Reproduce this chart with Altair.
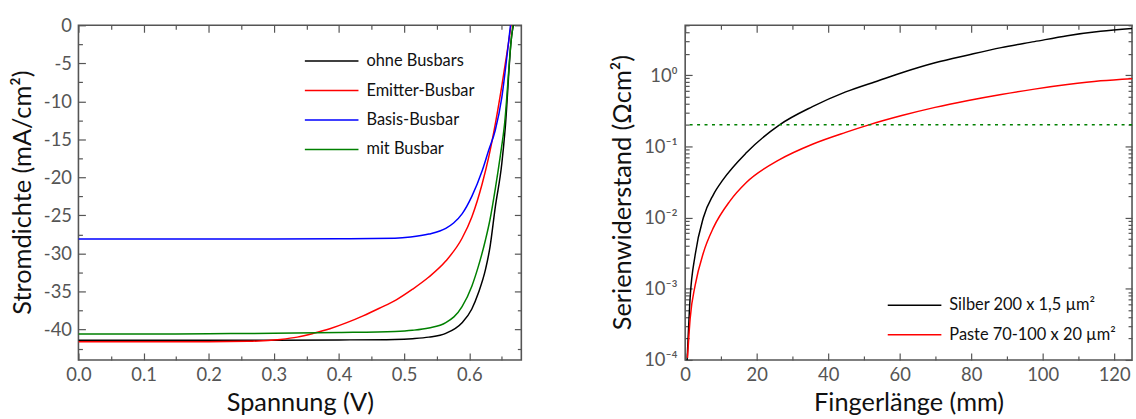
import altair as alt
import pandas as pd

# ---------------- data: left panel (IV curves) ----------------
series_left = ["ohne Busbars", "Emitter-Busbar", "Basis-Busbar", "mit Busbar"]
colors_left = ["#000000", "#ff0000", "#0000ff", "#008000"]

V_black = [0.0, 0.1, 0.2, 0.3, 0.4, 0.486, 0.513, 0.538, 0.564, 0.589, 0.604, 0.614, 0.625, 0.632, 0.640, 0.650, 0.655, 0.665, 0.669]
J_black = [-41.4, -41.4, -41.4, -41.4, -41.37, -41.3, -41.2, -41.0, -40.5, -39.1, -37.3, -35.2, -32.1, -29.1, -23.9, -18.2, -13.8, -1.5, 0.5]

V_red = [0.0, 0.1, 0.2, 0.26, 0.31, 0.336, 0.361, 0.386, 0.412, 0.437, 0.462, 0.488, 0.513, 0.538, 0.564, 0.589, 0.604, 0.620, 0.630, 0.640, 0.650, 0.660, 0.665]
J_red = [-41.6, -41.6, -41.6, -41.55, -41.3, -41.0, -40.5, -39.9, -39.1, -38.2, -37.2, -36.1, -34.7, -33.1, -31.0, -28.0, -25.2, -20.8, -17.3, -13.0, -8.0, -2.5, 0.5]

V_blue = [0.0, 0.1, 0.2, 0.3, 0.4, 0.486, 0.51, 0.538, 0.564, 0.576, 0.589, 0.604, 0.620, 0.630, 0.640, 0.650, 0.660, 0.664]
J_blue = [-28.1, -28.1, -28.1, -28.1, -28.07, -28.0, -27.85, -27.45, -26.7, -26.0, -24.8, -22.5, -19.1, -16.4, -13.8, -9.5, -2.5, 0.5]

V_green = [0.0, 0.1, 0.2, 0.3, 0.4, 0.486, 0.513, 0.538, 0.564, 0.589, 0.604, 0.614, 0.625, 0.632, 0.640, 0.648, 0.654, 0.665, 0.668]
J_green = [-40.6, -40.6, -40.55, -40.5, -40.4, -40.25, -40.1, -39.8, -39.1, -37.0, -34.3, -31.7, -28.2, -25.5, -21.5, -17.0, -13.2, -1.5, 0.5]

V_major = [0.0, 0.1, 0.2, 0.3, 0.4, 0.5, 0.6]
V_minor = [0.05, 0.15, 0.25, 0.35, 0.45, 0.55, 0.65]
J_major = [0, -5, -10, -15, -20, -25, -30, -35, -40]
J_minor = [-2.5, -7.5, -12.5, -17.5, -22.5, -27.5, -32.5, -37.5, -42.5]

# ---------------- data: right panel (series resistance) ----------------
series_right = ["Silber 200 x 1,5 µm²", "Paste 70-100 x 20 µm²"]
colors_right = ["#000000", "#ff0000"]

L_silber = [0.55, 1.39, 2.8, 5.1, 7.9, 10.6, 17.1, 26.4, 35.6, 44.9, 54.2, 60.6, 69.9, 79.2, 88.4, 97.7, 106.9, 116.2, 125.0]
R_silber = [1.0e-4, 7.5e-4, 3.0e-3, 1.0e-2, 2.1e-2, 3.4e-2, 8.1e-2, 0.20, 0.36, 0.58, 0.84, 1.08, 1.49, 1.92, 2.43, 2.95, 3.57, 4.11, 4.5]

L_paste = [0.65, 1.39, 2.8, 5.1, 7.9, 12.5, 17.1, 26.4, 35.6, 44.9, 51.4, 60.6, 69.9, 79.2, 88.4, 97.7, 106.9, 116.2, 125.0]
R_paste = [1.07e-4, 3.8e-4, 1.12e-3, 3.2e-3, 7.2e-3, 1.7e-2, 3.1e-2, 6.5e-2, 0.107, 0.157, 0.20, 0.27, 0.352, 0.44, 0.535, 0.635, 0.735, 0.83, 0.89]

R_limit = [0.2]

L_major = [0, 20, 40, 60, 80, 100, 120]
L_minor = [10, 30, 50, 70, 90, 110]
R_major = [1e-4, 1e-3, 1e-2, 1e-1, 1e0]
R_minor = [m * 10.0 ** e for e in range(-4, 1) for m in range(2, 10) if m * 10.0 ** e <= 5.0]

# ---------------- tables ----------------
rows = []
for name, vs, js in zip(series_left, [V_black, V_red, V_blue, V_green], [J_black, J_red, J_blue, J_green]):
    for v, j in zip(vs, js):
        rows.append({"s": name, "x": v, "y": j})
df_left = pd.DataFrame(rows)

rows = []
for name, ls, rs in zip(series_right, [L_silber, L_paste], [R_silber, R_paste]):
    for l, r in zip(ls, rs):
        rows.append({"s": name, "x": l, "y": r})
df_right = pd.DataFrame(rows)
df_limit = pd.DataFrame({"y": R_limit})

FONT = "Lato"
TICK_COLOR = "#555555"
MAJ, MIN = 7, 4

xs_left = alt.Scale(domain=[0, 0.68], nice=False, zero=False)
ys_left = alt.Scale(domain=[-44, 0], nice=False, zero=False)
xs_right = alt.Scale(domain=[0, 125], nice=False, zero=False)
ys_right = alt.Scale(type="log", domain=[1e-4, 5], nice=False)


def tick_axis(orient, vals, size):
    return alt.Axis(orient=orient, values=vals, tickSize=size, offset=-size, labels=False,
                    domain=False, grid=False, title=None, ticks=True,
                    tickColor=TICK_COLOR, tickWidth=1.2)


def tick_layers(base, xsc, ysc, xmaj, xmin, ymaj, ymin):
    out = []
    for xo, yo in [("bottom", "left"), ("top", "right")]:
        for xv, yv, sz in [(xmaj, ymaj, MAJ), (xmin, ymin, MIN)]:
            out.append(base.mark_point(opacity=0).encode(
                x=alt.X("x:Q", scale=xsc, axis=tick_axis(xo, xv, sz)),
                y=alt.Y("y:Q", scale=ysc, axis=tick_axis(yo, yv, sz)),
            ))
    return out


def legend(x, y):
    # line symbol: path spans 3x the nominal symbol diameter (18 px -> 54 px)
    return alt.Legend(orient="none", legendX=x + 18, legendY=y, title=None,
                      symbolType="M-3,0H3", symbolSize=324, symbolStrokeWidth=1.5,
                      symbolFillColor="transparent",
                      labelOffset=25, labelFontSize=16.5, labelFont=FONT, labelLimit=400,
                      labelColor="#111111", rowPadding=10.7, padding=0)


# ---------------- left panel ----------------
base_l = alt.Chart(df_left)
lines_l = base_l.mark_line(strokeWidth=1.5, interpolate="monotone", clip=True).encode(
    x=alt.X("x:Q", scale=xs_left,
            axis=alt.Axis(orient="bottom", values=V_major, format=".1f", ticks=False, domain=False,
                          grid=False, title="Spannung (V)", labelPadding=6, labelFlush=False,
                          titleX=223, titleY=51, titleAnchor="middle", titleBaseline="alphabetic")),
    y=alt.Y("y:Q", scale=ys_left,
            axis=alt.Axis(orient="left", values=J_major, ticks=False, domain=False, grid=False,
                          labelExpr="datum.value < 0 ? '-' + format(-datum.value, 'd') : '0'",
                          title="Stromdichte (mA/cm²)", labelPadding=7, labelFlush=False,
                          titleX=-43, titleY=168)),
    color=alt.Color("s:N", sort=series_left,
                    scale=alt.Scale(domain=series_left, range=colors_left),
                    legend=legend(227, 26)),
    detail="s:N",
)
left = alt.layer(lines_l, *tick_layers(base_l, xs_left, ys_left, V_major, V_minor, J_major, J_minor)).resolve_axis(
    x="independent", y="independent").properties(width=446, height=337)

# ---------------- right panel ----------------
base_r = alt.Chart(df_right)
lines_r = base_r.mark_line(strokeWidth=1.5, interpolate="monotone", clip=True).encode(
    x=alt.X("x:Q", scale=xs_right,
            axis=alt.Axis(orient="bottom", values=L_major, format="d", ticks=False, domain=False,
                          grid=False, title="Fingerlänge (mm)", labelPadding=6, labelFlush=False,
                          titleX=225, titleY=51, titleAnchor="middle", titleBaseline="alphabetic")),
    y=alt.Y("y:Q", scale=ys_right,
            axis=alt.Axis(orient="left", values=R_major, ticks=False, domain=False, grid=False,
                          labelExpr="'10' + ['⁻⁴','⁻³','⁻²','⁻¹','⁰'][round(log(datum.value)/LN10) + 4]",
                          title="Serienwiderstand (Ωcm²)", labelPadding=8, labelFlush=False,
                          titleX=-50, titleY=168)),
    color=alt.Color("s:N", sort=series_right,
                    scale=alt.Scale(domain=series_right, range=colors_right),
                    legend=legend(203, 272)),
    detail="s:N",
)
limit = alt.Chart(df_limit).mark_rule(color="#008000", strokeWidth=1.5, strokeDash=[3, 4.5]).encode(
    y=alt.Y("y:Q", scale=ys_right, axis=None)
)
right = alt.layer(lines_r, limit, *tick_layers(base_r, xs_right, ys_right, L_major, L_minor, R_major, R_minor)).resolve_axis(
    x="independent", y="independent").properties(width=450, height=337)

chart = alt.hconcat(left, right, spacing=87).resolve_scale(color="independent").properties(
    padding={"left": 10, "top": 14, "right": 0, "bottom": 0}, background="white"
).configure_view(stroke="#555555", strokeWidth=1.6).configure_axis(
    labelFont=FONT, labelFontSize=18.5, labelColor="#555555",
    titleFont=FONT, titleFontSize=25.5, titleColor="#111111", titleFontWeight="normal",
)

chart.save("out.html", embed_options={"renderer": "svg", "actions": False})
